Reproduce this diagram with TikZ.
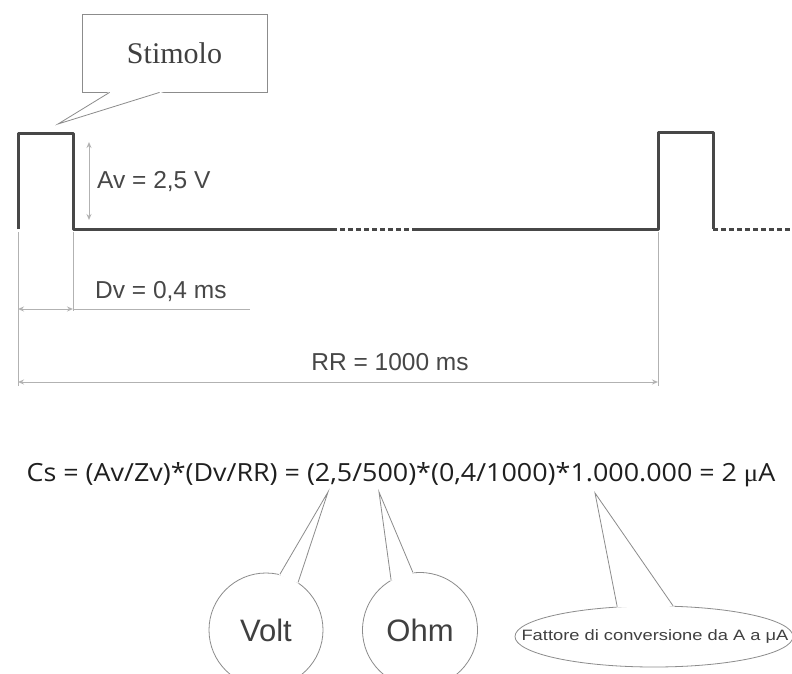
\documentclass[tikz,border=0pt]{standalone}
\usepackage{fontspec}
\setmainfont{Liberation Sans}
\newfontfamily\seriffont{Liberation Serif}
\newfontfamily\formfont{Open Sans}
\usetikzlibrary{arrows.meta,shapes.geometric,calc}
\begin{document}
\begin{tikzpicture}[x=1pt,y=-1pt,
 wave/.style={line width=3pt, draw=black!72, line join=round},
 wavedot/.style={line width=3pt, draw=black!72, dash pattern=on 5pt off 3pt},
 dimline/.style={line width=0.9pt, draw=black!30},
 dimarrow/.style={dimline, {Stealth[open,length=6pt,width=5pt]}-{Stealth[open,length=6pt,width=5pt]}},
 lbl/.style={inner sep=0pt, text=black!72, font=\fontsize{24.5}{28}\selectfont},
 callout/.style={draw=black!45, line width=0.8pt},
 bubtext/.style={text=black!75, font=\fontsize{31}{36}\selectfont},
]
\useasboundingbox[fill=white] (0,0) rectangle (792,674);

% waveform
\coordinate (p1a) at (18,229);
\coordinate (p1b) at (18,134);
\coordinate (p1c) at (73,134);
\coordinate (p1d) at (73,229);
\coordinate (d1a) at (332,229);
\coordinate (d1b) at (412,229);
\coordinate (p2a) at (658,229);
\coordinate (p2b) at (658,133);
\coordinate (p2c) at (713,133);
\coordinate (p2d) at (713,229);
\coordinate (endr) at (792,229);
\draw[wave] (p1a) -- (p1b) -- (p1c) -- (p1d) -- (d1a);
\draw[wavedot] (d1a) -- (d1b);
\draw[wave] (d1b) -- (p2a) -- (p2b) -- (p2c) -- (p2d);
\draw[wavedot] (p2d) -- (endr);

% dimension lines
\coordinate (e1) at (18,386);
\coordinate (e2) at (73,311);
\coordinate (e3) at (658,386);
\draw[dimline] (18,232) -- (e1);
\draw[dimline] (73,232) -- (e2);
\draw[dimline] (658,232) -- (e3);

\coordinate (av1) at (89,142);
\coordinate (av2) at (89,220);
\draw[dimarrow] (av1) -- (av2);
\node[lbl, anchor=west] (avl) at (97,182) {Av = 2,5 V};

\coordinate (dv1) at (18,309);
\coordinate (dv2) at (73,309);
\coordinate (dv3) at (250,309);
\draw[dimarrow] (dv1) -- (dv2);
\draw[dimline] (dv2) -- (dv3);
\node[lbl, anchor=west] (dvl) at (95,292) {Dv = 0,4 ms};

\coordinate (rr1) at (18,382);
\coordinate (rr2) at (658,382);
\draw[dimarrow] (rr1) -- (rr2);
\node[lbl] (rrl) at (390,362) {RR = 1000 ms};

% Stimolo callout
\node[callout, draw, minimum width=185pt, minimum height=78pt, inner sep=0pt,
      text=black!75, font=\seriffont\fontsize{30}{34}\selectfont] (stim) at (174.5,53) {Stimolo};
\coordinate (sb1) at ($(stim.south west)+(28,0)$);
\coordinate (sb2) at ($(stim.south west)+(78,0)$);
\coordinate (stip) at (58,124);
\path[fill=white, draw=white, line width=1.6pt] (sb1) -- (stip) -- (sb2) -- cycle;
\draw[callout] (sb1) -- (stip) -- (sb2);

% formula
\node[inner sep=0pt, text=black!88] (cs) at (401,475)
  {\scalebox{1.075}[1]{\formfont\fontsize{25}{29}\selectfont Cs = (Av/Zv)*(Dv/RR) = (2,5/500)*(0,4/1000)*1.000.000 = 2 {\seriffont μ}A}};

% Volt bubble
\node[callout, draw, circle, minimum size=114pt, inner sep=0pt, bubtext] (volt) at (266,630) {Volt};
\coordinate (vtip) at (328,492);
\path[fill=white, draw=white, line width=1.6pt] (volt.76) -- (vtip) -- (volt.56) -- cycle;
\draw[callout] (volt.76) -- (vtip) -- (volt.56);

% Ohm bubble
\node[callout, draw, circle, minimum size=115pt, inner sep=0pt, bubtext] (ohm) at (420,630) {Ohm};
\coordinate (otip) at (379,492);
\path[fill=white, draw=white, line width=1.6pt] (ohm.120) -- (otip) -- (ohm.97) -- cycle;
\draw[callout] (ohm.120) -- (otip) -- (ohm.97);

% conversion factor bubble
\node[callout, draw, ellipse, minimum width=278pt, minimum height=61pt, inner sep=0pt] (fatshape) at (654,636.5) {};
\node[inner sep=0pt, text=black!75] (fat) at (655,636.5)
  {\scalebox{1.22}[1]{\fontsize{15}{18}\selectfont Fattore di conversione da A a μA}};
\coordinate (ftip) at (595,493);
\path[fill=white, draw=white, line width=1.6pt] (fatshape.141) -- (ftip) -- (fatshape.58.6) -- cycle;
\draw[callout] (fatshape.141) -- (ftip) -- (fatshape.58.6);
\end{tikzpicture}
\end{document}
